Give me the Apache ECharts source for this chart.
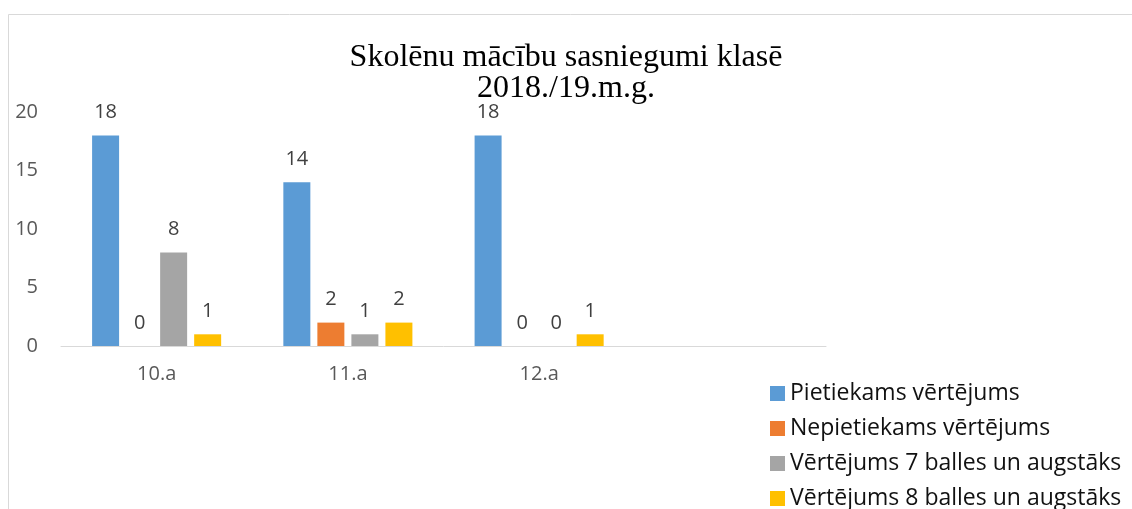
<!DOCTYPE html>
<html>
<head>
<meta charset="utf-8">
<title>Skolēnu mācību sasniegumi klasē</title>
<script src="https://cdn.jsdelivr.net/npm/echarts@6/dist/echarts.min.js"></script>
<style>
    html, body { margin: 0; padding: 0; background: #fff; }
    #chart { width: 1132px; height: 509px; }
</style>
</head>
<body>
<div id="chart"></div>
<script>
var classes = ['10.a', '11.a', '12.a', ''];
var seriesNames = [
    'Pietiekams vērtējums',
    'Nepietiekams vērtējums',
    'Vērtējums 7 balles un augstāks',
    'Vērtējums 8 balles un augstāks'
];
var pietiekams = [18, 14, 18];
var nepietiekams = [0, 2, 0];
var balles7 = [8, 1, 0];
var balles8 = [1, 2, 1];
var yTicks = [0, 5, 10, 15, 20];

(function () {
    var myChart = echarts.init(document.getElementById('chart'));
    var colors = ['#5B9BD5', '#ED7D31', '#A5A5A5', '#FFC000'];
    var values = [pietiekams, nepietiekams, balles7, balles8];

    var series = values.map(function (data, i) {
        return {
            name: seriesNames[i],
            type: 'bar',
            data: data,
            barWidth: 27,
            barGap: '26%',
            itemStyle: { color: colors[i] },
            label: {
                show: true,
                position: 'top',
                distance: 13,
                color: '#404040',
                fontFamily: 'Open Sans',
                fontSize: 20
            }
        };
    });

    var option = {
        backgroundColor: '#fff',
        animation: false,
        color: colors,
        title: {
            text: 'Skolēnu mācību sasniegumi klasē\n2018./19.m.g.',
            left: 'center',
            top: 37,
            textStyle: {
                fontFamily: 'Liberation Serif',
                fontWeight: 'normal',
                fontSize: 32,
                lineHeight: 31,
                color: '#000'
            }
        },
        // chart area border
        graphic: [{
            type: 'rect',
            silent: true,
            shape: { x: 8.5, y: 14.5, width: 1200, height: 600 },
            style: { fill: 'none', stroke: '#d9d9d9', lineWidth: 1 }
        }],
        legend: {
            orient: 'vertical',
            left: 765,
            top: 377,
            height: 200,
            itemWidth: 15,
            itemHeight: 15,
            itemGap: 12,
            icon: 'rect',
            textStyle: {
                fontFamily: 'Open Sans',
                fontSize: 23,
                lineHeight: 23,
                color: '#111',
                padding: [0, 0, 0, 0]
            },
            data: seriesNames
        },
        grid: {
            left: 61,
            right: 306,
            top: 112,
            bottom: 163
        },
        xAxis: {
            type: 'category',
            data: classes,
            axisLine: { lineStyle: { color: '#d9d9d9', width: 1 } },
            axisTick: { show: false },
            axisLabel: {
                margin: 18,
                color: '#595959',
                fontFamily: 'Open Sans',
                fontSize: 20
            }
        },
        yAxis: {
            type: 'value',
            min: yTicks[0],
            max: yTicks[yTicks.length - 1],
            interval: 5,
            axisLine: { show: false },
            axisTick: { show: false },
            splitLine: { show: false },
            axisLabel: {
                margin: 23,
                color: '#595959',
                fontFamily: 'Open Sans',
                fontSize: 20
            }
        },
        series: series
    };
    myChart.setOption(option);
    window.addEventListener('resize', function () {
        myChart.resize();
    });
})();
</script>
</body>
</html>
